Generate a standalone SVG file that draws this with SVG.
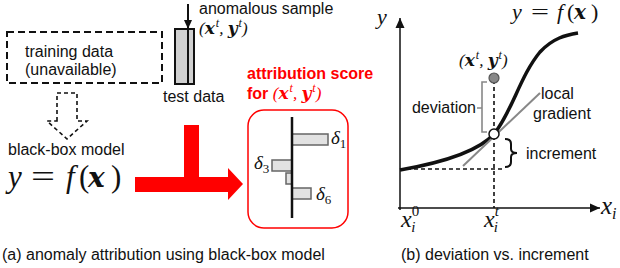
<svg xmlns="http://www.w3.org/2000/svg" width="620" height="268" viewBox="0 0 620 268">
<style>
.t{font-family:"Liberation Sans",Arial,sans-serif;font-size:16px;fill:#111}
.m{font-family:"Liberation Serif","DejaVu Serif",serif;font-style:italic;fill:#111}
.r{font-family:"Liberation Serif","DejaVu Serif",serif;fill:#111}
.bx{font-family:"DejaVu Serif","Liberation Serif",serif;font-style:italic;font-weight:bold}
.up{font-style:normal}
.b{font-weight:bold}
.red{fill:#ff0000}
.bar{fill:#e2e2e2;stroke:#666;stroke-width:1.5}
.dash{fill:none;stroke:#111;stroke-width:1.6;stroke-dasharray:4,3}
</style>
<defs>
<marker id="ah" markerWidth="10" markerHeight="10" refX="9" refY="5" orient="auto" markerUnits="userSpaceOnUse">
<path d="M0,1 L9,5 L0,9 Z" fill="#111"/>
</marker>
<marker id="ahs" markerWidth="12" markerHeight="10" refX="10" refY="5" orient="auto" markerUnits="userSpaceOnUse">
<path d="M0,0.5 L10,5 L0,9.5 Z" fill="#111"/>
</marker>
</defs>

<!-- panel (a) -->
<g id="training-data">
<rect x="7" y="32" width="155" height="51" fill="none" stroke="#111" stroke-width="2" stroke-dasharray="7,4"/>
<text class="t" x="25" y="57">training data</text>
<text class="t" x="25" y="75">(unavailable)</text>
</g>

<g id="test-data">
<rect x="175" y="29" width="13" height="55" fill="#d0d0d0" stroke="#111" stroke-width="2"/>
<rect x="188" y="29" width="6" height="55" fill="#d0d0d0" stroke="#111" stroke-width="2"/>
<text class="t" x="163" y="102">test data</text>
</g>

<g id="anomalous-sample">
<text class="t" x="199" y="14">anomalous sample</text>
<text class="m" x="199" y="34" font-size="17">(<tspan class="bx">x</tspan><tspan font-size="12" dx="1" dy="-7">t</tspan><tspan dy="7">, </tspan><tspan class="bx">y</tspan><tspan font-size="12" dx="1" dy="-7">t</tspan><tspan dy="7">)</tspan></text>
</g>

<g id="black-box-model">
<text class="t" x="8" y="155">black-box model</text>
<text class="m" x="8" y="187" font-size="31">y</text>
<text class="r" x="31" y="187" font-size="31" textLength="24" lengthAdjust="spacingAndGlyphs">=</text>
<text class="m" x="66" y="187" font-size="31">f</text>
<text class="r" x="79" y="187" font-size="31">(</text>
<text class="m bx" x="88" y="187" font-size="28">x</text>
<text class="r" x="111" y="187" font-size="31">)</text>
</g>

<g id="attribution-score">
<text class="t b red" x="247" y="79">attribution score</text>
<text class="t b red" x="247" y="99">for <tspan class="m" font-size="17" font-weight="normal" style="fill:#ff0000">(<tspan class="bx">x</tspan><tspan font-size="12" dx="1" dy="-7">t</tspan><tspan dy="7">, </tspan><tspan class="bx">y</tspan><tspan font-size="12" dx="1" dy="-7">t</tspan><tspan dy="7">)</tspan></tspan></text>
<rect x="248" y="110" width="100" height="118" rx="16" fill="#fff" stroke="#ff0000" stroke-width="1.5"/>
<rect class="bar" x="292" y="134" width="36" height="11"/>
<rect class="bar" x="272" y="160" width="20" height="11"/>
<rect class="bar" x="286" y="173" width="6" height="11"/>
<rect class="bar" x="292" y="188" width="19" height="11"/>
<line x1="292" y1="117" x2="292" y2="218" stroke="#111" stroke-width="2.5"/>
<text class="m" x="331" y="144" font-size="19">δ<tspan class="up" font-size="13" dy="4">1</tspan></text>
<text class="m" x="254" y="169" font-size="19">δ<tspan class="up" font-size="13" dy="4">3</tspan></text>
<text class="m" x="316" y="200" font-size="19">δ<tspan class="up" font-size="13" dy="4">6</tspan></text>
</g>

<g id="connectors-a">
<line x1="188" y1="4" x2="188" y2="29" stroke="#111" stroke-width="2" marker-end="url(#ah)"/>
<path d="M57,121 V93 H77 V121 H87 L67,139 L47,121 Z" fill="#fff" stroke="#111" stroke-width="1.6" stroke-dasharray="4,3"/>
<path d="M184,125 H199 V177 H228 V168 L243,184 L228,200 V192 H135 V177 H184 Z" fill="#ff0000"/>
</g>

<text class="t" x="2" y="260">(a) anomaly attribution using black-box model</text>

<!-- panel (b) -->
<g id="axes">
<line x1="400" y1="210" x2="400" y2="18" stroke="#111" stroke-width="1.5" marker-end="url(#ahs)"/>
<line x1="398" y1="208" x2="600" y2="208" stroke="#111" stroke-width="1.5" marker-end="url(#ahs)"/>
<text class="m" x="377" y="24" font-size="22">y</text>
<text class="m" x="601" y="214" font-size="25">x<tspan font-size="16" dy="5">i</tspan></text>
<text class="m" x="401" y="227" font-size="24">x<tspan class="up" font-size="15" dy="-11">0</tspan><tspan font-size="15" dx="-8" dy="16">i</tspan></text>
<text class="m" x="484" y="227" font-size="24">x<tspan font-size="15" dy="-11">t</tspan><tspan font-size="15" dx="-5" dy="16">i</tspan></text>
</g>

<g id="function-curve">
<text class="m" x="512" y="19" font-size="22">y</text>
<text class="r" x="531" y="19" font-size="22" textLength="18" lengthAdjust="spacingAndGlyphs">=</text>
<text class="m" x="557" y="19" font-size="22">f</text>
<text class="r" x="567" y="19" font-size="22">(</text>
<text class="m bx" x="574" y="19" font-size="20">x</text>
<text class="r" x="591" y="19" font-size="22">)</text>
<path d="M400,170 C440,163 478,152 494,134 C512,112 520,76 540,52 C553,38 566,35 578,33" fill="none" stroke="#111" stroke-width="3.5"/>
</g>

<g id="guides">
<line class="dash" x1="400" y1="169" x2="503" y2="169"/>
<line class="dash" x1="494" y1="80" x2="494" y2="208"/>
<line x1="463" y1="166" x2="540" y2="93" stroke="#888" stroke-width="2"/>
</g>

<g id="sample-point">
<circle cx="494" cy="78" r="5" fill="#888" stroke="#555" stroke-width="1.2"/>
<text class="m" x="459" y="66" font-size="17">(<tspan class="bx">x</tspan><tspan font-size="12" dx="1" dy="-7">t</tspan><tspan dy="7">, </tspan><tspan class="bx">y</tspan><tspan font-size="12" dx="1" dy="-7">t</tspan><tspan dy="7">)</tspan></text>
</g>

<g id="deviation">
<path d="M487,82 H482 V132 H487 M482,108 H477" fill="none" stroke="#888" stroke-width="1.6"/>
<text class="t" x="476" y="113" text-anchor="end">deviation</text>
</g>

<g id="local-gradient">
<text class="t" x="541" y="99">local</text>
<text class="t" x="533" y="119">gradient</text>
</g>

<g id="reference-point">
<circle cx="494" cy="134" r="5" fill="#fff" stroke="#111" stroke-width="1.5"/>
</g>

<g id="increment">
<path d="M505,139 Q511,139 511,144 V149 Q511,153 517,153 Q511,153 511,157 V162 Q511,167 505,167" fill="none" stroke="#111" stroke-width="2"/>
<text class="t" x="526" y="159">increment</text>
</g>

<text class="t" x="401" y="260">(b) deviation vs. increment</text>
</svg>
